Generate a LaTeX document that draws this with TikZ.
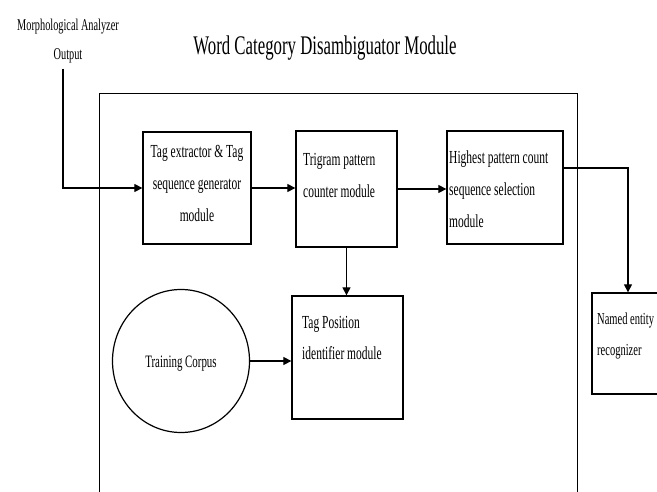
\documentclass[tikz,border=0pt]{standalone}
\usepackage{fontspec}
\setmainfont{Liberation Serif}
\usepackage{graphicx}
\usetikzlibrary{arrows.meta,shapes.geometric}
\newcommand{\tallt}[2][l]{\scalebox{1}[1.6]{\begin{tabular}[t]{@{}#1@{}}#2\end{tabular}}}

\begin{document}
\begin{tikzpicture}[x=1pt,y=-1pt,
  box/.style={draw,line width=1.3pt,inner sep=0pt},
  boxtxt/.style={font=\fontsize{11.5}{20}\selectfont,inner sep=0pt,anchor=base west},
  arr/.style={-{Triangle[length=8pt,width=8pt]},line width=1.2pt}]
  \useasboundingbox (0,0) rectangle (657,492);
  \clip (0,0) rectangle (657,492);

  \node[inner sep=0pt] (title) at (325,48) {\fontsize{16.8}{20}\selectfont\tallt{Word Category Disambiguator Module}};
  \node[inner sep=0pt,anchor=base] (morph) at (68,31) {\fontsize{10.3}{18}\selectfont\tallt[c]{Morphological Analyzer\\Output}};

  % module frame, open at the bottom of the page
  \node[box,anchor=north west,minimum width=478pt,minimum height=460pt] (wcd) at (99,93) {};

  \node[box,minimum width=108pt,minimum height=112pt] (tagx) at (197,188) {};
  \node[box,minimum width=101pt,minimum height=116pt] (trig) at (346.5,189) {};
  \node[box,minimum width=116pt,minimum height=113pt] (high) at (505,187.5) {};
  \node[box,minimum width=111pt,minimum height=123pt] (tpos) at (347.5,357.5) {};
  \node[box,minimum width=72pt,minimum height=101pt] (ner) at (628,343.5) {};
  \node[draw,ellipse,line width=1.2pt,minimum width=137pt,minimum height=143pt,inner sep=0pt,
        font=\fontsize{10.9}{20}\selectfont] (corpus) at (181,361) {\tallt{Training Corpus}};

  \node[boxtxt,anchor=base] (tagxtxt) at (197,158) {\tallt[c]{Tag extractor \& Tag\\sequence generator\\module}};
  \node[boxtxt] (trigtxt) at (303,166) {\tallt{Trigram pattern\\counter module}};
  \node[boxtxt] (hightxt) at (449,164) {\tallt{Highest pattern count\\sequence selection\\module}};
  \node[boxtxt] (tpostxt) at (302,328) {\tallt{Tag Position\\identifier module}};
  \node[boxtxt,font=\fontsize{10.5}{20}\selectfont] (nertxt) at (597,324) {\tallt{Named entity\\recognizer}};

  \draw[arr] ([xshift=-5pt]morph.south) |- (tagx.west);
  \draw[arr] (tagx.east) -- (tagx.east -| trig.west);
  \draw[arr] (trig.east) -- (trig.east -| high.west);
  \draw[arr] ([yshift=19.5pt]high.east) -| (ner.north);
  \draw[arr] (trig.south) -- (trig.south |- tpos.north);
  \draw[arr] (corpus.east) -- (corpus.east -| tpos.west);
\end{tikzpicture}
\end{document}
